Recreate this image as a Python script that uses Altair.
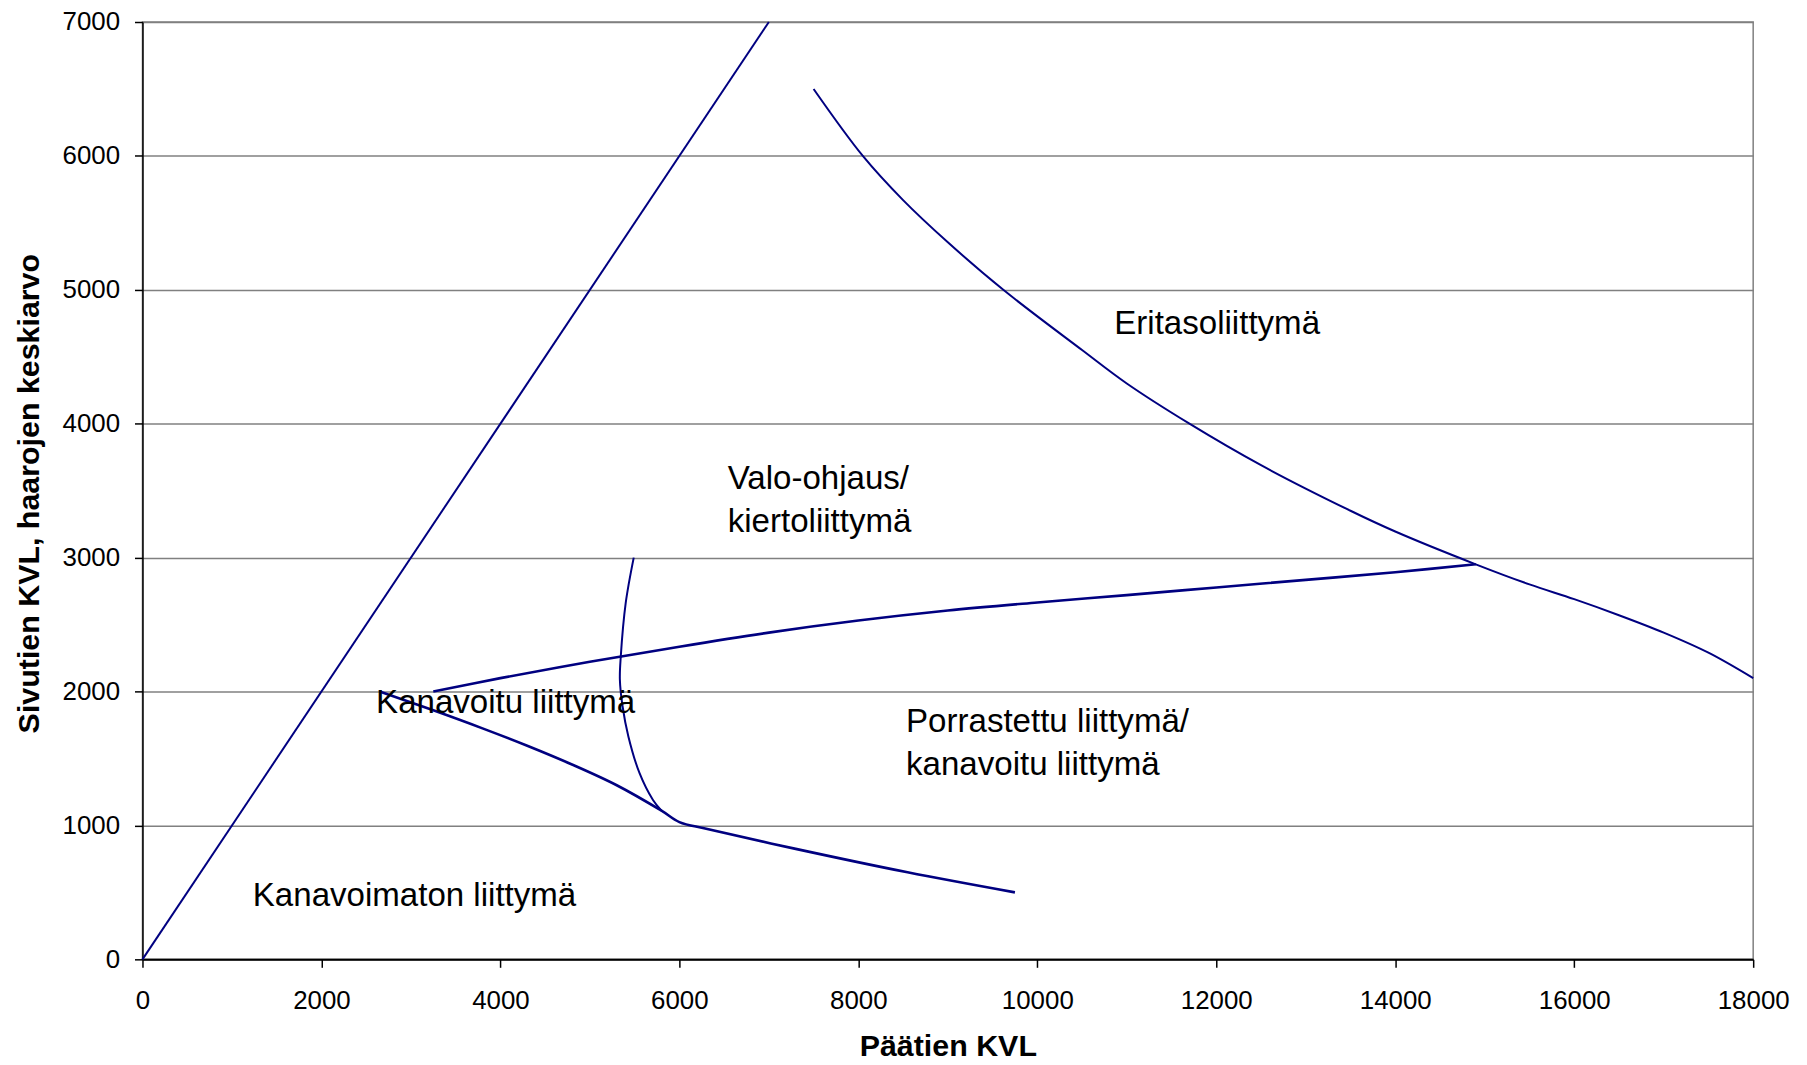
import altair as alt
import pandas as pd

# ---- data ----
diag_x = [0, 7000]
diag_y = [0, 7000]

erit_x = [7500, 8050, 8500, 9000, 9620, 10500, 11000, 11700, 12500, 13500, 14000, 14900, 15500, 16000, 16500, 17000, 17500, 18000]
erit_y = [6500, 6000, 5670, 5355, 5000, 4550, 4300, 4000, 3690, 3350, 3195, 2950, 2800, 2690, 2570, 2440, 2290, 2100]

upper_x = [3250, 4000, 5000, 6000, 7000, 8000, 9000, 10000, 11000, 12000, 13000, 14000, 14900]
upper_y = [2000, 2100, 2222, 2335, 2440, 2530, 2605, 2665, 2720, 2777, 2834, 2891, 2950]

lower_x = [2650, 3250, 3800, 4300, 4800, 5300, 5800, 6000, 6300, 7300, 8550, 9750]
lower_y = [2000, 1860, 1725, 1595, 1455, 1300, 1110, 1025, 975, 825, 650, 500]

valo_x = [5490, 5400, 5345, 5335, 5365, 5430, 5555, 5705, 5800]
valo_y = [3000, 2660, 2260, 2090, 1890, 1665, 1390, 1190, 1110]

label_text = ["Eritasoliittymä", "Valo-ohjaus/", "kiertoliittymä", "Kanavoitu liittymä",
              "Porrastettu liittymä/", "kanavoitu liittymä", "Kanavoimaton liittymä"]
label_x = [10860, 6540, 6540, 2611, 8533, 8533, 1233]
label_y = [4667, 3513, 3189, 1837, 1700, 1378, 397]

x_ticks = [0, 2000, 4000, 6000, 8000, 10000, 12000, 14000, 16000, 18000]
y_ticks = [0, 1000, 2000, 3000, 4000, 5000, 6000, 7000]

FONT = "Liberation Sans"
NAVY = "#000080"

xscale = alt.Scale(domain=[0, 18000], nice=False, zero=True)
yscale = alt.Scale(domain=[0, 7000], nice=False, zero=True)

x_axis = alt.Axis(values=x_ticks, grid=False, format="d", labelFontSize=26, labelFont=FONT,
                  labelColor="black", labelFlush=False, tickSize=8, tickColor="black",
                  tickWidth=1.5, labelPadding=20, domainColor="black", domainWidth=2,
                  title="Päätien KVL", titleFont=FONT, titleFontSize=30.5, titleFontWeight="bold",
                  titleColor="black", titleY=97, titleBaseline="alphabetic")
y_axis = alt.Axis(values=y_ticks, grid=True, gridColor="#808080", gridWidth=1.5, format="d",
                  labelFontSize=26, labelFont=FONT, labelColor="black", labelFlush=False,
                  tickSize=8, tickColor="black", tickWidth=1.5, labelPadding=15,
                  domainColor="black", domainWidth=1.5,
                  title="Sivutien KVL, haarojen keskiarvo", titleFont=FONT,
                  titleFontSize=30.5, titleFontWeight="bold", titleColor="black",
                  titleX=-104, titleY=473, titleBaseline="alphabetic")

X = alt.X("x:Q", scale=xscale, axis=x_axis)
Y = alt.Y("y:Q", scale=yscale, axis=y_axis)


def line_layer(xs, ys, width, interp):
    df = pd.DataFrame({"i": list(range(len(xs))), "x": xs, "y": ys})
    return alt.Chart(df).mark_line(color=NAVY, strokeWidth=width, interpolate=interp).encode(
        x=X, y=Y, order="i:Q")


diag = line_layer(diag_x, diag_y, 2.0, "linear")
erit = line_layer(erit_x, erit_y, 2.0, "catmull-rom")
upper = line_layer(upper_x, upper_y, 2.6, "catmull-rom")
lower = line_layer(lower_x, lower_y, 2.6, "catmull-rom")
valo = line_layer(valo_x, valo_y, 2.0, "catmull-rom")

labels_df = pd.DataFrame({"t": label_text, "x": label_x, "y": label_y})
labels = alt.Chart(labels_df).mark_text(align="left", baseline="alphabetic", font=FONT,
                                         fontSize=33.2, color="black").encode(
    x=X, y=Y, text="t:N")

chart = alt.layer(diag, erit, upper, lower, valo, labels).properties(
    width=1617, height=941,
    autosize=alt.AutoSizeParams(type="none"),
    padding={"left": 135, "top": 12, "right": 46, "bottom": 100},
    background="white",
).configure_view(stroke="#808080", strokeWidth=1.5)

chart.save("out.html", embed_options={"renderer": "svg", "actions": False})
